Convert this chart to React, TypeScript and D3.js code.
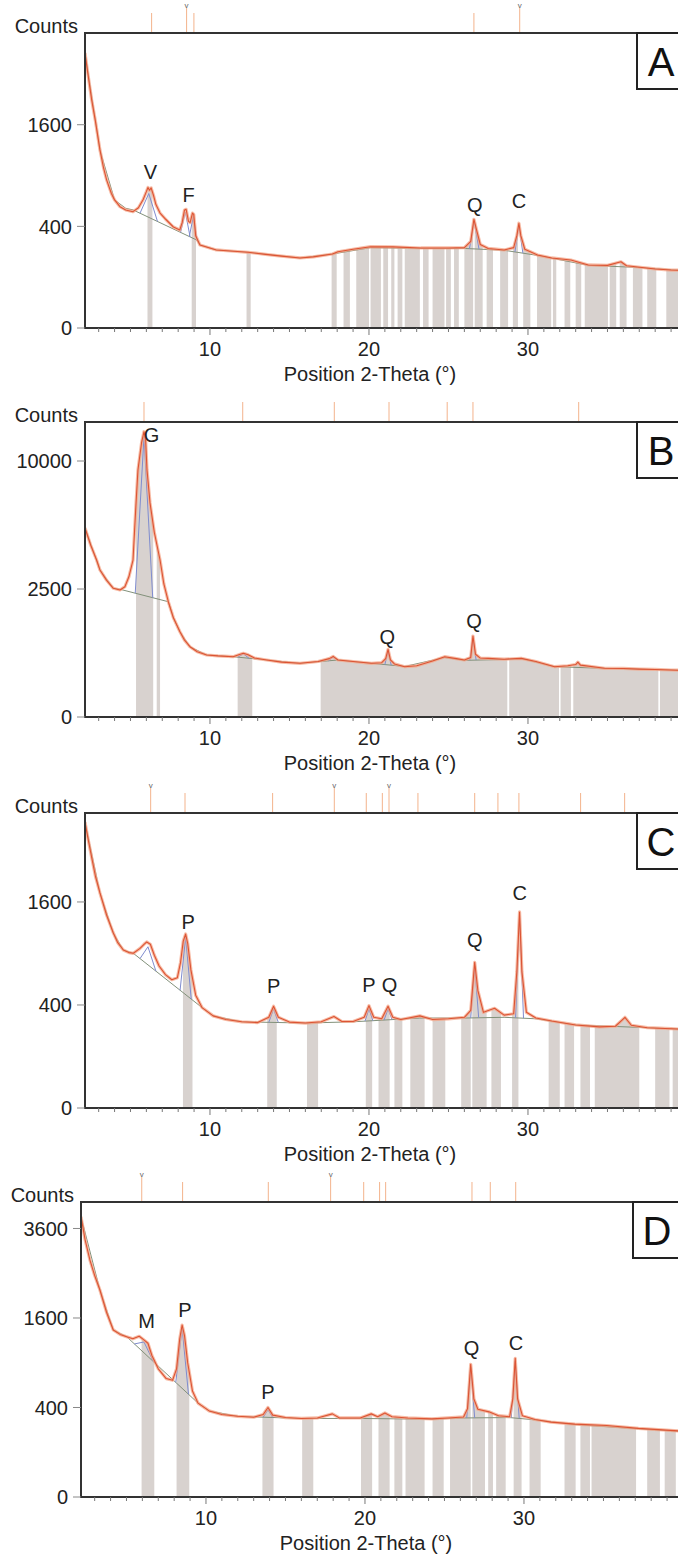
import React, { useEffect, useRef } from "react";
import * as d3 from "d3";

type Pt = [number, number];

const W = 678;
const H = 1556;
const LEFT = 85;
const PLOT_H = 295;
const PX_PER_DEG = 15.9;
const FONT = "'Liberation Sans', Arial, sans-serif";
const FS = 20;

// shared 2-theta axis
const xDomain: Pt = [2.14, 40.2];
const xTicksMajor = [10, 20, 30];
const xTicksMinor = d3.range(3, 41);

// ---------- panel A ----------
const yTicksA = [0, 400, 1600];
const yMaxA = 3370;
const obsA: Pt[] = [
  [2.14, 2930], [2.3, 2550], [2.56, 2014], [2.8, 1650], [3.08, 1228], [3.3, 1000], [3.5, 850],
  [3.8, 700], [4.0, 635], [4.34, 570], [4.7, 540], [5.16, 524], [5.5, 560], [5.8, 640],
  [6.0, 720], [6.1, 765], [6.2, 735], [6.3, 760], [6.45, 680], [6.6, 590], [6.86, 512],
  [7.2, 460], [7.7, 395], [8.1, 372], [8.25, 430], [8.4, 540], [8.5, 545], [8.65, 440],
  [8.75, 430], [8.9, 512], [8.98, 500], [9.1, 330], [9.37, 267], [10.4, 236], [11.5, 228],
  [12.4, 222], [13.5, 210], [14.5, 200], [15.66, 190], [16.5, 196], [17.7, 212], [18.05, 225],
  [19.0, 240], [20.1, 256], [21.5, 255], [23.27, 248], [25.0, 248], [26.0, 250], [26.4, 290],
  [26.6, 458], [26.75, 380], [27.0, 270], [27.5, 245], [28.5, 236], [29.1, 250], [29.3, 330],
  [29.43, 425], [29.55, 330], [29.8, 240], [30.6, 206], [31.5, 190], [32.7, 179], [33.8, 154],
  [35.0, 152], [35.85, 170], [36.2, 150], [36.9, 144], [38.0, 135], [39.0, 130], [40.2, 128],
];
const bgA: Pt[] = [
  [2.14, 2930], [3.08, 1228], [4.0, 635], [4.7, 555], [5.16, 540], [9.16, 300], [9.37, 267],
  [10.4, 236], [12.4, 222], [15.66, 190], [17.7, 212], [20.1, 250], [23.27, 245], [26.0, 245],
  [28.5, 234], [30.6, 204], [33.8, 152], [36.9, 142], [40.2, 126],
];
const peaksA: Pt[] = [[6.15, 700], [8.45, 520], [8.95, 480], [26.62, 440], [29.43, 410]];
const peakWidthA = [0.55, 0.3, 0.25, 0.3, 0.25];
const barsA: Pt[] = [
  [6.07, 6.38], [8.85, 9.12], [12.3, 12.56], [17.65, 17.97], [18.4, 18.8], [19.2, 20.0],
  [20.1, 20.75], [20.9, 21.2], [21.4, 21.6], [21.8, 22.1], [22.25, 23.2], [23.4, 23.75],
  [24.0, 24.75], [24.85, 25.15], [25.35, 25.65], [26.0, 26.55], [26.65, 27.15], [27.4, 27.8],
  [28.25, 28.75], [29.05, 29.37], [29.7, 30.15], [30.57, 31.46], [31.57, 31.78], [32.3, 32.66],
  [33.0, 33.35], [33.57, 35.03], [35.14, 35.55], [35.77, 36.2], [36.6, 37.2], [37.5, 38.07],
  [38.7, 40.2],
];
const sticksA = [6.33, 8.53, 8.99, 26.6, 29.48];
const vMarksA = [8.53, 29.48];
const labelsA = ["V", "F", "Q", "C"];
const labelPosA: Pt[] = [[6.25, 860], [8.65, 615], [26.65, 521], [29.43, 558]];

// ---------- panel B ----------
const yTicksB = [0, 2500, 10000];
const yMaxB = 13280;
const obsB: Pt[] = [
  [2.14, 5450], [2.5, 4500], [2.87, 3761], [3.08, 3300], [3.5, 2850], [3.92, 2527], [4.34, 2461],
  [4.65, 2592], [4.9, 3000], [5.16, 3761], [5.35, 6990], [5.47, 9310], [5.7, 11500], [5.85, 12420],
  [5.95, 11800], [6.04, 9310], [6.23, 6990], [6.5, 5200], [6.86, 3761], [7.1, 2700], [7.38, 2028],
  [7.7, 1500], [8.11, 1110], [8.4, 900], [8.74, 754], [9.2, 650], [9.79, 587], [10.5, 570],
  [11.45, 555], [11.9, 600], [12.1, 619], [12.4, 590], [12.8, 530], [13.57, 496], [14.5, 460],
  [15.66, 440], [16.8, 470], [17.5, 520], [17.75, 560], [18.05, 496], [19.0, 470], [20.15, 440],
  [20.8, 450], [21.05, 520], [21.2, 699], [21.35, 500], [21.6, 430], [22.25, 386], [23.0, 400],
  [24.0, 480], [24.76, 555], [25.5, 520], [26.0, 496], [26.4, 540], [26.54, 1001], [26.7, 600],
  [27.0, 530], [27.5, 525], [28.5, 510], [29.58, 525], [30.5, 470], [31.68, 386], [32.5, 400],
  [33.0, 420], [33.14, 460], [33.3, 410], [34.82, 362], [36.0, 360], [37.0, 350], [38.0, 345],
  [39.0, 337], [40.2, 330],
];
const bgB: Pt[] = [
  [2.14, 5450], [3.08, 3300], [3.92, 2527], [4.34, 2490], [7.38, 2028], [7.7, 1500], [8.11, 1110],
  [8.74, 754], [9.79, 587], [11.45, 555], [13.57, 496], [15.66, 440], [18.05, 496], [20.15, 440],
  [22.25, 390], [24.76, 540], [26.0, 490], [28.5, 505], [29.58, 520], [31.68, 386], [34.82, 362],
  [40.2, 330],
];
const peaksB: Pt[] = [[5.85, 12000], [12.1, 610], [17.75, 550], [21.2, 660], [26.54, 950]];
const peakWidthB = [0.55, 0.35, 0.3, 0.2, 0.2];
const barsB: Pt[] = [
  [5.35, 6.43], [6.65, 6.86], [11.74, 12.66], [16.96, 28.7], [28.82, 31.95], [32.05, 32.7],
  [32.85, 38.2], [38.3, 40.2],
];
const sticksB = [5.85, 12.06, 17.82, 21.26, 24.92, 26.54, 33.19];
const vMarksB: number[] = [];
const labelsB = ["G", "Q", "Q"];
const labelPosB: Pt[] = [[6.33, 11540], [21.15, 813], [26.6, 1209]];

// ---------- panel C ----------
const yTicksC = [0, 400, 1600];
const yMaxC = 3280;
const obsC: Pt[] = [
  [2.14, 3080], [2.35, 2700], [2.59, 2319], [2.8, 2020], [3.08, 1743], [3.5, 1400], [3.92, 1155],
  [4.2, 1030], [4.55, 941], [4.9, 910], [5.18, 902], [5.6, 960], [5.85, 1010], [6.02, 1039],
  [6.25, 1010], [6.5, 880], [6.8, 760], [7.2, 670], [7.6, 620], [7.95, 640], [8.15, 800],
  [8.32, 1050], [8.47, 1141], [8.6, 1020], [8.8, 720], [9.1, 480], [9.5, 380], [10.2, 320],
  [11.0, 295], [12.0, 280], [13.0, 275], [13.7, 310], [14.0, 390], [14.3, 310], [15.0, 278],
  [16.0, 272], [17.0, 280], [17.8, 315], [18.3, 282], [19.0, 282], [19.7, 310], [20.0, 395],
  [20.3, 310], [20.8, 300], [21.2, 390], [21.5, 310], [22.0, 295], [23.2, 320], [24.0, 295],
  [25.0, 300], [26.0, 310], [26.4, 360], [26.65, 800], [26.85, 520], [27.2, 345], [27.9, 375],
  [28.5, 325], [29.1, 335], [29.3, 700], [29.47, 1449], [29.62, 700], [29.9, 345], [30.5, 305],
  [31.5, 285], [33.0, 260], [34.5, 248], [35.5, 252], [36.1, 310], [36.5, 258], [37.5, 243],
  [39.0, 237], [40.2, 232],
];
const bgC: Pt[] = [
  [2.14, 3080], [3.08, 1743], [3.92, 1155], [4.55, 941], [5.18, 902], [9.5, 380], [10.2, 320],
  [12.0, 280], [16.0, 272], [19.0, 280], [23.2, 305], [26.0, 305], [28.5, 310], [30.5, 300],
  [33.0, 260], [37.5, 243], [40.2, 232],
];
const peaksC: Pt[] = [[6.1, 980], [8.47, 1100], [14.0, 370], [20.0, 370], [21.2, 370], [26.65, 760], [29.47, 1400]];
const peakWidthC = [0.5, 0.35, 0.3, 0.25, 0.25, 0.25, 0.25];
const barsC: Pt[] = [
  [8.3, 8.9], [13.6, 14.2], [16.1, 16.8], [19.8, 20.2], [20.6, 21.3], [21.6, 22.1], [22.6, 23.5],
  [24.0, 24.8], [25.8, 26.4], [26.5, 27.4], [27.7, 28.3], [29.0, 29.4], [31.3, 32.0], [32.3, 32.9],
  [33.3, 33.9], [34.2, 37.0], [38.0, 38.9], [39.1, 40.2],
];
const sticksC = [6.27, 8.43, 13.94, 17.82, 19.83, 20.84, 21.26, 23.08, 26.65, 28.11, 29.43, 33.31, 36.08];
const vMarksC = [6.27, 17.82, 21.26];
const labelsC = ["P", "P", "P", "Q", "Q", "C"];
const labelPosC: Pt[] = [[8.63, 1208], [14.0, 500], [20.0, 510], [21.3, 510], [26.65, 980], [29.48, 1631]];

// ---------- panel D ----------
const yTicksD = [0, 400, 1600, 3600];
const yMaxD = 4345;
const obsD: Pt[] = [
  [2.14, 3923], [2.4, 3300], [2.7, 2805], [3.0, 2450], [3.33, 2140], [3.75, 1700], [4.17, 1393],
  [4.6, 1320], [5.01, 1283], [5.4, 1250], [5.8, 1290], [6.06, 1240], [6.35, 1180], [6.6, 1000],
  [7.0, 820], [7.5, 700], [7.9, 680], [8.15, 820], [8.35, 1250], [8.5, 1477], [8.65, 1300],
  [8.85, 900], [9.15, 560], [9.5, 440], [10.2, 370], [11.0, 340], [12.0, 325], [13.0, 318],
  [13.6, 340], [13.9, 400], [14.2, 335], [15.0, 315], [16.0, 308], [17.0, 312], [17.95, 345],
  [18.4, 312], [19.7, 312], [20.4, 345], [20.8, 322], [21.25, 352], [21.7, 322], [22.7, 312],
  [24.2, 305], [25.2, 312], [26.2, 320], [26.45, 390], [26.65, 880], [26.85, 480], [27.1, 385],
  [27.8, 362], [28.4, 330], [29.1, 322], [29.3, 480], [29.45, 960], [29.6, 480], [29.9, 330],
  [30.7, 300], [31.7, 280], [33.2, 265], [35.2, 255], [37.2, 235], [38.7, 225], [40.2, 215],
];
const bgD: Pt[] = [
  [2.14, 3923], [3.33, 2140], [4.17, 1393], [5.01, 1283], [9.5, 440], [10.2, 370], [12.0, 325],
  [16.0, 308], [19.7, 308], [24.2, 302], [26.2, 312], [29.1, 315], [30.7, 297], [33.2, 262],
  [37.2, 232], [40.2, 212],
];
const peaksD: Pt[] = [[6.1, 1200], [8.5, 1430], [13.9, 380], [26.65, 840], [29.45, 920]];
const peakWidthD = [0.6, 0.4, 0.3, 0.25, 0.25];
const barsD: Pt[] = [
  [5.95, 6.75], [8.15, 8.95], [13.55, 14.25], [16.05, 16.75], [19.75, 20.45], [20.85, 21.55],
  [21.85, 22.35], [22.55, 23.75], [24.25, 24.95], [25.35, 26.65], [26.75, 27.55], [27.75, 28.05],
  [28.25, 28.85], [29.35, 29.85], [30.35, 31.05], [32.55, 33.25], [33.55, 34.15], [34.25, 37.05],
  [37.75, 38.55], [38.85, 39.55],
];
const sticksD = [5.96, 8.53, 13.92, 17.84, 19.92, 20.92, 21.3, 26.73, 27.88, 29.48];
const vMarksD = [5.96, 17.84];
const labelsD = ["M", "P", "P", "Q", "C"];
const labelPosD: Pt[] = [[6.27, 1426], [8.68, 1618], [13.9, 480], [26.7, 1000], [29.5, 1080]];

const panels = [
  { name: "A", top: 33, dx: 0, yMax: yMaxA, yTicks: yTicksA, obs: obsA, bg: bgA, peaks: peaksA, peakWidth: peakWidthA, bars: barsA, sticks: sticksA, vMarks: vMarksA, labels: labelsA, labelPos: labelPosA },
  { name: "B", top: 422, dx: 0, yMax: yMaxB, yTicks: yTicksB, obs: obsB, bg: bgB, peaks: peaksB, peakWidth: peakWidthB, bars: barsB, sticks: sticksB, vMarks: vMarksB, labels: labelsB, labelPos: labelPosB },
  { name: "C", top: 813, dx: 0, yMax: yMaxC, yTicks: yTicksC, obs: obsC, bg: bgC, peaks: peaksC, peakWidth: peakWidthC, bars: barsC, sticks: sticksC, vMarks: vMarksC, labels: labelsC, labelPos: labelPosC },
  { name: "D", top: 1202, dx: -4, yMax: yMaxD, yTicks: yTicksD, obs: obsD, bg: bgD, peaks: peaksD, peakWidth: peakWidthD, bars: barsD, sticks: sticksD, vMarks: vMarksD, labels: labelsD, labelPos: labelPosD },
];

type Panel = typeof panels[number];

// value of a series at x, linear in sqrt space
function lookup(series: Pt[], xv: number) {
  const i = d3.bisector((d: Pt) => d[0]).left(series, xv);
  if (i <= 0) return series[0][1];
  if (i >= series.length) return series[series.length - 1][1];
  const a = series[i - 1], b = series[i];
  const t = (xv - a[0]) / (b[0] - a[0]);
  const s = Math.sqrt(a[1]) + t * (Math.sqrt(b[1]) - Math.sqrt(a[1]));
  return s * s;
}

function text(g: any, x: number, y: number, s: string | number, anchor = "middle", size = FS) {
  return g.append("text").attr("x", x).attr("y", y).attr("text-anchor", anchor)
    .attr("font-family", FONT).attr("font-size", size).attr("fill", "#222").text(s);
}

function drawPanel(svg: any, p: Panel, x: d3.ScaleLinear<number, number>, idx: number) {
  const T = p.top;
  const B = T + PLOT_H;
  const y = d3.scaleSqrt().domain([0, p.yMax]).range([B, T]);
  const right = W - p.dx;

  const defs = svg.append("defs");
  const plotClip = "plotclip" + idx;
  const barClip = "barclip" + idx;
  defs.append("clipPath").attr("id", plotClip)
    .append("rect").attr("x", LEFT).attr("y", T).attr("width", right - LEFT).attr("height", PLOT_H);
  defs.append("clipPath").attr("id", barClip)
    .selectAll("rect").data(p.bars).join("rect")
    .attr("x", (d: Pt) => x(d[0]))
    .attr("width", (d: Pt) => x(d[1]) - x(d[0]))
    .attr("y", T).attr("height", PLOT_H);

  const g = svg.append("g").attr("transform", `translate(${p.dx},0)`);
  const plot = g.append("g").attr("clip-path", `url(#${plotClip})`);

  // grey peak-area bars, cut to the measured curve
  const area = d3.area<Pt>().x(d => x(d[0])).y0(B).y1(d => y(d[1]));
  plot.append("g").attr("clip-path", `url(#${barClip})`)
    .append("path").datum(p.obs).attr("d", area).attr("fill", "#d8d2cf");

  const line = d3.line<Pt>().x(d => x(d[0])).y(d => y(d[1]));

  // background
  plot.append("path").datum(p.bg).attr("d", line)
    .attr("fill", "none").attr("stroke", "#82917a").attr("stroke-width", 1);

  // fitted peaks
  p.peaks.forEach((pk, i) => {
    const w = p.peakWidth[i];
    const pts: Pt[] = [[pk[0] - w, lookup(p.bg, pk[0] - w)], [pk[0], pk[1]], [pk[0] + w, lookup(p.bg, pk[0] + w)]];
    plot.append("path").datum(pts).attr("d", line)
      .attr("fill", "none").attr("stroke", "#7f8ccf").attr("stroke-width", 1);
  });

  // measured pattern
  plot.append("path").datum(p.obs).attr("d", line)
    .attr("fill", "none").attr("stroke", "#f4a688").attr("stroke-width", 3.2)
    .attr("stroke-linejoin", "round").attr("opacity", 0.75);
  plot.append("path").datum(p.obs).attr("d", line)
    .attr("fill", "none").attr("stroke", "#dc5434").attr("stroke-width", 1.1)
    .attr("stroke-linejoin", "round");

  // frame
  g.append("line").attr("x1", LEFT).attr("x2", LEFT).attr("y1", T - 1).attr("y2", B + 1)
    .attr("stroke", "#333").attr("stroke-width", 2);
  g.append("line").attr("x1", LEFT - 1).attr("x2", right).attr("y1", T).attr("y2", T)
    .attr("stroke", "#333").attr("stroke-width", 2);
  g.append("line").attr("x1", LEFT - 1).attr("x2", right).attr("y1", B).attr("y2", B)
    .attr("stroke", "#333").attr("stroke-width", 2);

  // y ticks
  p.yTicks.forEach(v => {
    g.append("line").attr("x1", LEFT - 8).attr("x2", LEFT).attr("y1", y(v)).attr("y2", y(v))
      .attr("stroke", "#888").attr("stroke-width", 1);
    text(g, LEFT - 13, y(v), v, "end").attr("dy", "0.36em");
  });

  // x ticks
  xTicksMinor.forEach(v => {
    const major = xTicksMajor.includes(v);
    g.append("line").attr("x1", x(v)).attr("x2", x(v)).attr("y1", B).attr("y2", B + (major ? 7 : 4))
      .attr("stroke", "#777").attr("stroke-width", 1);
  });
  xTicksMajor.forEach(v => text(g, x(v), B + 28, v));
  text(g, 370, B + 53, "Position 2-Theta (°)");
  text(g, 78, T, "Counts", "end");

  // reference sticks above the frame
  p.sticks.forEach(s => {
    const tall = p.vMarks.includes(s);
    g.append("line").attr("x1", x(s)).attr("x2", x(s)).attr("y1", T - (tall ? 25 : 20)).attr("y2", T - 1)
      .attr("stroke", "#f3b38c").attr("stroke-width", 1);
  });
  p.vMarks.forEach(s => {
    text(g, x(s), T - 25, "v", "middle", 8).attr("fill", "#666");
  });

  // phase labels
  p.labels.forEach((t, i) => {
    const pos = p.labelPos[i];
    text(g, x(pos[0]), y(pos[1]), t);
  });

  // panel letter box
  g.append("rect").attr("x", 637).attr("y", T).attr("width", 70).attr("height", 56)
    .attr("fill", "#fff").attr("stroke", "#222").attr("stroke-width", 2);
  text(g, 661, T + 43, p.name, "middle", 40).attr("fill", "#111");
}

export default function App() {
  const ref = useRef<SVGSVGElement>(null);

  useEffect(() => {
    const svg = d3.select(ref.current);
    svg.selectAll("*").remove();
    const x = d3.scaleLinear()
      .domain(xDomain)
      .range([LEFT, LEFT + (xDomain[1] - xDomain[0]) * PX_PER_DEG]);
    panels.forEach((p, i) => drawPanel(svg, p, x, i));
  }, []);

  return (
    <svg ref={ref} width={W} height={H}
      style={{ position: "absolute", left: 0, top: 0, background: "#fff" }} />
  );
}
